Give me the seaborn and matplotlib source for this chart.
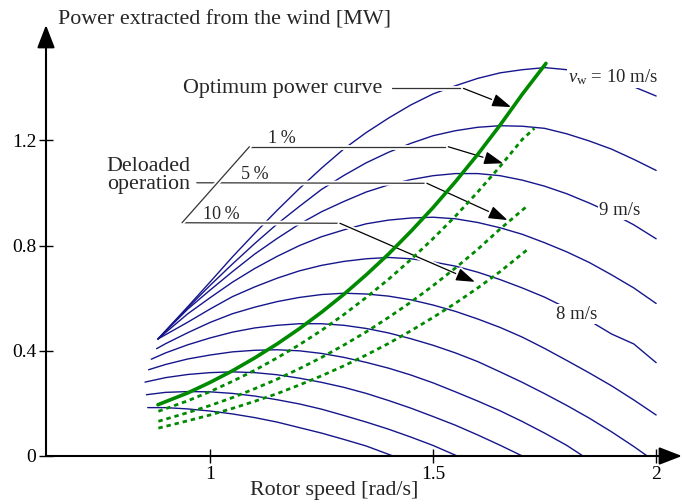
import pandas as pd
import matplotlib
matplotlib.use("Agg")
import matplotlib.pyplot as plt
import matplotlib.patheffects as pe
import seaborn as sns

# rotor speed grid for the high wind speed curves [rad/s]
omega_hi = [0.883, 0.95, 1.0, 1.05, 1.1, 1.15, 1.2, 1.25, 1.3, 1.35, 1.4, 1.45,
            1.5, 1.55, 1.6, 1.65, 1.7, 1.75, 1.8, 1.85, 1.9, 1.95, 2.0]
p_10 = [0.445, 0.568, 0.662, 0.757, 0.847, 0.934, 1.017, 1.095, 1.168, 1.230, 1.285, 1.335,
        1.377, 1.408, 1.436, 1.457, 1.469, 1.477, 1.469, 1.457, 1.434, 1.404, 1.369]
p_95 = [0.445, 0.564, 0.649, 0.730, 0.808, 0.882, 0.949, 1.014, 1.067, 1.115, 1.155, 1.189,
        1.218, 1.237, 1.250, 1.256, 1.254, 1.246, 1.225, 1.198, 1.167, 1.128, 1.086]
p_9 = [0.445, 0.559, 0.631, 0.701, 0.768, 0.827, 0.882, 0.929, 0.968, 1.004, 1.031, 1.051,
       1.066, 1.074, 1.074, 1.066, 1.049, 1.026, 0.997, 0.962, 0.924, 0.879, 0.826]
p_85 = [0.445, 0.541, 0.602, 0.661, 0.713, 0.759, 0.800, 0.834, 0.860, 0.883, 0.897, 0.905,
        0.908, 0.902, 0.888, 0.868, 0.843, 0.811, 0.776, 0.736, 0.689, 0.639, 0.580]
p_8 = [0.445, 0.509, 0.559, 0.606, 0.643, 0.676, 0.704, 0.725, 0.740, 0.750, 0.755, 0.750,
       0.738, 0.722, 0.699, 0.671, 0.639, 0.604, 0.562, 0.515, 0.464, 0.426, 0.355]

# lower wind speeds, each with its own start / end
omega_75 = [0.880, 0.9, 0.95, 1.0, 1.05, 1.1, 1.15, 1.2, 1.25, 1.3, 1.35, 1.4, 1.45,
            1.5, 1.55, 1.6, 1.65, 1.7, 1.75, 1.8, 1.85, 1.9, 1.95, 2.0]
p_75 = [0.408, 0.427, 0.469, 0.508, 0.541, 0.566, 0.587, 0.603, 0.614, 0.619, 0.616, 0.608,
        0.594, 0.574, 0.550, 0.521, 0.489, 0.452, 0.409, 0.363, 0.316, 0.267, 0.213, 0.156]
omega_7 = [0.868, 0.9, 0.95, 1.0, 1.05, 1.1, 1.15, 1.2, 1.25, 1.3, 1.35, 1.4, 1.45,
           1.5, 1.55, 1.6, 1.65, 1.7, 1.75, 1.8, 1.85, 1.9, 1.95, 1.98]
p_7 = [0.368, 0.392, 0.423, 0.449, 0.471, 0.487, 0.497, 0.503, 0.503, 0.497, 0.485, 0.468,
       0.446, 0.421, 0.392, 0.359, 0.320, 0.280, 0.237, 0.192, 0.144, 0.092, 0.036, 0.0]
omega_65 = [0.862, 0.9, 0.95, 1.0, 1.05, 1.1, 1.15, 1.2, 1.25, 1.3, 1.35, 1.4, 1.45,
            1.5, 1.55, 1.6, 1.65, 1.7, 1.75, 1.8, 1.836]
p_65 = [0.328, 0.348, 0.369, 0.384, 0.396, 0.402, 0.404, 0.400, 0.390, 0.375, 0.356, 0.334,
        0.308, 0.278, 0.244, 0.209, 0.172, 0.131, 0.087, 0.040, 0.0]
omega_6 = [0.854, 0.9, 0.95, 1.0, 1.05, 1.1, 1.15, 1.2, 1.25, 1.3, 1.35, 1.4, 1.45,
           1.5, 1.55, 1.6, 1.65, 1.70]
p_6 = [0.281, 0.298, 0.310, 0.317, 0.320, 0.317, 0.309, 0.296, 0.280, 0.261, 0.238, 0.211,
       0.182, 0.150, 0.117, 0.080, 0.041, 0.0]
omega_55 = [0.857, 0.9, 0.95, 1.0, 1.05, 1.1, 1.15, 1.2, 1.25, 1.3, 1.35, 1.4, 1.45,
            1.5, 1.554]
p_55 = [0.233, 0.242, 0.245, 0.244, 0.238, 0.228, 0.214, 0.198, 0.178, 0.154, 0.129, 0.102,
        0.072, 0.040, 0.0]
omega_5 = [0.86, 0.9, 0.95, 1.0, 1.05, 1.1, 1.15, 1.2, 1.25, 1.3, 1.35, 1.41]
p_5 = [0.184, 0.184, 0.179, 0.171, 0.160, 0.146, 0.129, 0.108, 0.087, 0.063, 0.038, 0.0]

# optimum power curve and deloaded curves
omega_opt = [0.883, 0.95, 1.0, 1.05, 1.1, 1.15, 1.2, 1.25, 1.3, 1.35, 1.4, 1.45, 1.5,
             1.55, 1.6, 1.65, 1.7, 1.753]
p_opt = [0.195, 0.240, 0.280, 0.324, 0.373, 0.426, 0.484, 0.547, 0.615, 0.689, 0.768, 0.854,
         0.945, 1.043, 1.147, 1.258, 1.376, 1.493]
omega_d1 = [0.884, 0.95, 1.0, 1.05, 1.1, 1.15, 1.2, 1.25, 1.3, 1.35, 1.4, 1.45, 1.5,
            1.55, 1.6, 1.65, 1.7, 1.727]
p_d1 = [0.170, 0.210, 0.245, 0.284, 0.326, 0.373, 0.423, 0.478, 0.538, 0.603, 0.672, 0.747,
        0.827, 0.912, 1.004, 1.101, 1.204, 1.246]
omega_d5 = [0.884, 0.95, 1.0, 1.05, 1.1, 1.15, 1.2, 1.25, 1.3, 1.35, 1.4, 1.45, 1.5,
            1.55, 1.6, 1.65, 1.709]
p_d5 = [0.132, 0.165, 0.192, 0.222, 0.256, 0.292, 0.332, 0.375, 0.422, 0.472, 0.527, 0.585,
        0.648, 0.715, 0.786, 0.863, 0.948]
omega_d10 = [0.884, 0.95, 1.0, 1.05, 1.1, 1.15, 1.2, 1.25, 1.3, 1.35, 1.4, 1.45, 1.5,
             1.55, 1.6, 1.65, 1.71]
p_d10 = [0.106, 0.134, 0.156, 0.181, 0.208, 0.237, 0.270, 0.305, 0.343, 0.384, 0.428, 0.476,
         0.527, 0.581, 0.639, 0.701, 0.783]

curves = [(10, omega_hi, p_10), (9.5, omega_hi, p_95), (9, omega_hi, p_9),
          (8.5, omega_hi, p_85), (8, omega_hi, p_8), (7.5, omega_75, p_75),
          (7, omega_7, p_7), (6.5, omega_65, p_65), (6, omega_6, p_6),
          (5.5, omega_55, p_55), (5, omega_5, p_5)]
df = pd.concat([pd.DataFrame({"omega": w, "power": p, "wind": v}) for v, w, p in curves])

deloaded = [("1%", omega_d1, p_d1), ("5%", omega_d5, p_d5), ("10%", omega_d10, p_d10)]
df_del = pd.concat([pd.DataFrame({"omega": w, "power": p, "level": lv}) for lv, w, p in deloaded])

navy = "#16168c"
green = "#008a00"

sns.set_theme(style="white")
plt.rcParams["font.family"] = ["Liberation Serif", "DejaVu Serif"]
plt.rcParams["mathtext.fontset"] = "custom"
plt.rcParams["mathtext.rm"] = "Liberation Serif"
plt.rcParams["mathtext.it"] = "Liberation Serif:italic"

fig = plt.figure(figsize=(6.82, 5.04), dpi=100)
ax = fig.add_axes([46 / 682, 48 / 504, 636 / 682, 431 / 504])

sns.lineplot(data=df, x="omega", y="power", units="wind", estimator=None, sort=False,
             color=navy, lw=1.0, ax=ax, legend=False)
sns.lineplot(data=df_del, x="omega", y="power", units="level", estimator=None, sort=False,
             color=green, lw=2.0, linestyle=(0, (1.6, 1.4)), ax=ax, legend=False, zorder=3)
sns.lineplot(x=omega_opt, y=p_opt, color=green, lw=2.6, ax=ax, zorder=4)

ax.set_xlim(0.632, 2.058)
ax.set_ylim(0, 1.639)
ax.set_xticks([1, 1.5, 2])
ax.set_xticklabels(["1", "1.5", "2"])
ax.set_yticks([0, 0.4, 0.8, 1.2])
ax.set_yticklabels(["0", "0.4", "0.8", "1.2"])
ax.tick_params(bottom=True, left=True, direction="inout", length=10, width=1,
               labelsize=14, pad=2, colors="black")
ax.set_xlabel("")
ax.set_ylabel("")
for s in ax.spines.values():
    s.set_visible(False)

# axes drawn as arrows
arrow_kw = dict(arrowstyle="-|>,head_length=0.7,head_width=0.27", lw=1.5, color="black",
                mutation_scale=20, shrinkA=0, shrinkB=0)
ax.annotate("", xy=(1, 0), xytext=(0, 0), xycoords="axes fraction",
            arrowprops=arrow_kw, annotation_clip=False)
ax.annotate("", xy=(0, 1), xytext=(0, 0), xycoords="axes fraction",
            arrowprops=arrow_kw, annotation_clip=False)

fig.text(58 / 682, 1 - 20 / 504, "Power extracted from the wind [MW]", fontsize=15.8,
         ha="left", va="center")
fig.text(334 / 682, 1 - 490 / 504, "Rotor speed [rad/s]", fontsize=15.8,
         ha="center", va="center")

# leader lines
halo = [pe.Stroke(linewidth=3.5, foreground="white"), pe.Normal()]
lead = "#333333"


def leader(xs, ys, tip):
    ax.plot(xs, ys, color=lead, lw=0.9, path_effects=halo, zorder=2.5)
    a = ax.annotate("", xy=tip, xytext=(xs[-1], ys[-1]),
                    arrowprops=dict(arrowstyle="-|>,head_length=0.65,head_width=0.22",
                                    lw=0.9, color="black", mutation_scale=18,
                                    shrinkA=0, shrinkB=0), zorder=2.5)
    a.arrow_patch.set_path_effects(halo)


leader([1.407, 1.568], [1.398, 1.398], (1.675, 1.327))
leader([1.088, 1.534], [1.176, 1.176], (1.657, 1.113))
leader([0.970, 1.486], [1.039, 1.037], (1.667, 0.897))
leader([0.937, 1.291], [0.887, 0.885], (1.594, 0.662))
ax.plot([0.937, 1.088], [0.887, 1.176], color=lead, lw=0.9, path_effects=halo, zorder=2.5)

fs = 15.8
ax.text(0.940, 1.398, "Optimum power curve", fontsize=fs, ha="left", va="center")
ax.text(0.768, 1.067, "Deloaded\noperation", fontsize=fs, ha="left", va="center",
        linespacing=0.88)
ax.text(1.161, 1.206, "1\u2009%", fontsize=13, ha="center", va="center")
ax.text(1.101, 1.070, "5\u2009%", fontsize=13, ha="center", va="center")
ax.text(1.026, 0.918, "10\u2009%", fontsize=13, ha="center", va="center")

box = dict(facecolor="white", edgecolor="none", pad=1.0)
ax.text(1.803, 1.44, r"$v_\mathrm{w}$ = 10 m/s", fontsize=13.5, ha="left", va="center",
        bbox=box, zorder=5)
ax.text(1.919, 0.935, "9 m/s", fontsize=13.5, ha="center", va="center", bbox=box, zorder=5)
ax.text(1.822, 0.539, "8 m/s", fontsize=13.5, ha="center", va="center", bbox=box, zorder=5)

fig.savefig("out.png", dpi=100)
